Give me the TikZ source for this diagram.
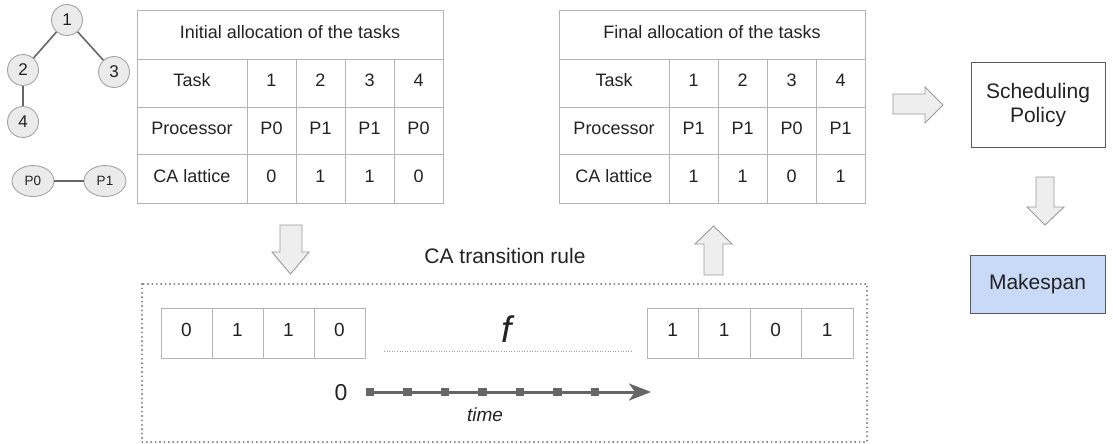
\documentclass[tikz,border=0pt]{standalone}
\usepackage{fontspec}
\setmainfont{Liberation Sans}
\usetikzlibrary{arrows.meta,shapes.geometric}

\definecolor{gridline}{HTML}{B5B5B5}
\definecolor{arrowfill}{HTML}{EEEEEE}
\definecolor{arrowline}{HTML}{9A9A9A}
\definecolor{dotline}{HTML}{7A7A7A}
\definecolor{nodefill}{HTML}{EBEBEB}
\definecolor{nodeline}{HTML}{A3A3A3}
\definecolor{edgecol}{HTML}{666666}
\definecolor{boxline}{HTML}{595959}
\definecolor{makespanfill}{HTML}{C9DAF8}
\definecolor{inkcol}{HTML}{222222}

% Allocation table: #1 name prefix, #2 left x, #3 title, #4 processors, #5 lattice
\newcommand\alloctable[5]{%
  \draw[gridline, line width=0.9pt] (#2,10) rectangle ({#2+306},203);
  \foreach \yy in {59,107,154} \draw[gridline, line width=0.9pt] (#2,\yy) -- ({#2+306},\yy);
  \foreach \dx in {110,159,208,257} \draw[gridline, line width=0.9pt] ({#2+\dx},59) -- ({#2+\dx},203);
  \node[cell] (#1-title) at ({#2+153},34.5) {#3};
  \node[cell] (#1-task) at ({#2+55},83) {Task};
  \node[cell] (#1-proc) at ({#2+55},130.5) {Processor};
  \node[cell] (#1-ca) at ({#2+55},178.5) {CA lattice};
  \foreach \v [count=\i] in {1,2,3,4}
    \node[cell] (#1-t\i) at ({#2+85.5+49*\i},83) {\v};
  \foreach \v [count=\i] in {#4}
    \node[cell] (#1-p\i) at ({#2+85.5+49*\i},130.5) {\v};
  \foreach \v [count=\i] in {#5}
    \node[cell] (#1-c\i) at ({#2+85.5+49*\i},178.5) {\v};
}

% Four-cell lattice strip: #1 name prefix, #2 left x, #3 cell width, #4 values
\newcommand\latticestrip[4]{%
  \draw[gridline, line width=0.9pt] (#2,308) rectangle ({#2+4*#3},358);
  \foreach \k in {1,2,3} \draw[gridline, line width=0.9pt] ({#2+\k*#3},308) -- ({#2+\k*#3},358);
  \foreach \v [count=\i] in {#4}
    \node[latcell] (#1\i) at ({#2+#3*(\i-0.5)},333) {\v};
}

\begin{document}
\begin{tikzpicture}[x=1pt, y=-1pt,
  every node/.style={text=inkcol},
  cell/.style={inner sep=0pt, text height=0.72em, text depth=0pt,
               font=\fontsize{18}{21}\selectfont},
  tasknode/.style={circle, draw=nodeline, fill=nodefill, line width=0.9pt,
                   minimum size=31pt, inner sep=0pt, font=\fontsize{17}{19}\selectfont},
  procnode/.style={ellipse, draw=nodeline, fill=nodefill, line width=0.9pt,
                   minimum width=42pt, minimum height=31pt, inner sep=0pt,
                   font=\fontsize{13.5}{15}\selectfont},
  graphedge/.style={draw=edgecol, line width=1.6pt},
  blockarrow/.style={draw=arrowline, fill=arrowfill, line width=0.9pt, line join=miter},
  latcell/.style={inner sep=0pt, text height=0.72em, text depth=0pt,
                  font=\fontsize{19}{22}\selectfont},
  plainbox/.style={draw=boxline, line width=1pt, inner sep=0pt,
                   font=\fontsize{21}{24}\selectfont, align=center},
  tick/.style={fill=edgecol, inner sep=0pt, minimum size=8.5pt}
]
\useasboundingbox (0,0) rectangle (1113,444);

% task graph
\node[tasknode] (n1) at (67,20) {1};
\node[tasknode] (n2) at (23,70) {2};
\node[tasknode] (n3) at (114,72) {3};
\node[tasknode] (n4) at (23,122) {4};
\draw[graphedge] (n1) -- (n2);
\draw[graphedge] (n1) -- (n3);
\draw[graphedge] (n2) -- (n4);

% processor graph
\node[procnode] (p0) at (33,181) {P0};
\node[procnode] (p1) at (105,181) {P1};
\draw[graphedge] (p0) -- (p1);

% allocation tables
\alloctable{init}{137}{Initial allocation of the tasks}{P0,P1,P1,P0}{0,1,1,0}
\alloctable{final}{559}{Final allocation of the tasks}{P1,P1,P0,P1}{1,1,0,1}

% CA transition rule frame
\draw[draw=dotline, line width=2.1pt, line cap=round, dash pattern=on 0pt off 4.4pt]
  (142,284) rectangle (867,442);
\node[font=\fontsize{21}{24}\selectfont] (rule) at (505,256) {CA transition rule};

% lattices
\latticestrip{a}{161}{51}{0,1,1,0}
\latticestrip{b}{647}{51.5}{1,1,0,1}

\node[font=\fontsize{37}{40}\selectfont\itshape] (f) at (507,329) {f};
\coordinate (fl) at (384,351);
\coordinate (fr) at (632,351);
\draw[arrowline, line width=0.8pt, dash pattern=on 1pt off 1.6pt] (fl) -- (fr);

% time axis
\node[font=\fontsize{23}{26}\selectfont] (zero) at (341,393) {0};
\coordinate (t0) at (366,392);
\coordinate (t1) at (651,392);
\draw[edgecol, line width=3pt, -{Stealth[length=22pt, width=17pt, inset=6pt]}] (t0) -- (t1);
\foreach \i in {0,...,6}
  \node[tick] (tk\i) at ({370+37.5*\i},392) {};
\node[font=\fontsize{19}{22}\selectfont\itshape] (time) at (485,415) {time};

% scheduling and makespan
\node[plainbox, minimum width=134pt, minimum height=84pt] (sched) at (1038,105)
  {Scheduling\\Policy};
\node[plainbox, fill=makespanfill, minimum width=135pt, minimum height=58pt] (mk) at (1037.5,284)
  {Makespan};

% block arrows
\draw[blockarrow] (893,94) -- (925,94) -- (925,87) -- (943,105) -- (925,123) -- (925,114) -- (893,114) -- cycle;
\draw[blockarrow] (1036,177) -- (1054,177) -- (1054,207) -- (1064,207) -- (1045,225) -- (1027,207) -- (1036,207) -- cycle;
\draw[blockarrow] (280,225) -- (302,225) -- (302,252) -- (309,252) -- (290.5,274) -- (272,252) -- (280,252) -- cycle;
\draw[blockarrow] (704,275) -- (723,275) -- (723,244) -- (732,244) -- (713.5,226) -- (695,244) -- (704,244) -- cycle;
\end{tikzpicture}
\end{document}
